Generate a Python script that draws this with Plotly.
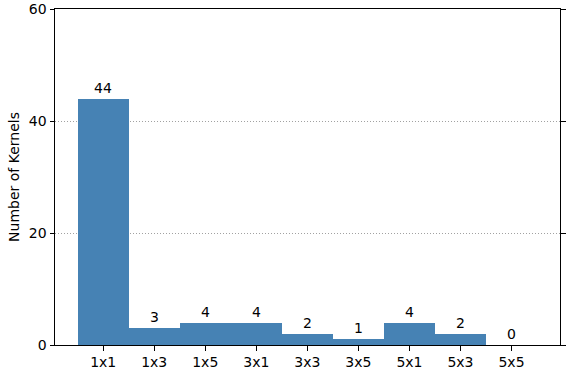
import plotly.graph_objects as go

categories = ["1x1", "1x3", "1x5", "3x1", "3x3", "3x5", "5x1", "5x3", "5x5"]
counts = [44, 3, 4, 4, 2, 1, 4, 2, 0]
y_ticks = [0, 20, 40, 60]

font = dict(family="DejaVu Sans", size=14, color="black")
x_idx = list(range(len(categories)))

fig = go.Figure()
fig.add_trace(go.Bar(x=x_idx, y=counts, width=1.0, marker=dict(color="#4682B4", line=dict(width=0)),
                     showlegend=False, hoverinfo="skip"))
# invisible trace to activate right axis
fig.add_trace(go.Scatter(x=[x_idx[0]], y=[0], yaxis="y2", mode="markers",
                         marker=dict(opacity=0), showlegend=False, hoverinfo="skip"))

for xi, v in zip(x_idx, counts):
    fig.add_annotation(x=xi, y=v, text=str(v), showarrow=False, yanchor="bottom",
                       yshift=1, font=font)

fig.update_layout(
    width=569, height=383,
    margin=dict(l=55, r=8.5, t=8.5, b=38, autoexpand=False),
    paper_bgcolor="white", plot_bgcolor="white",
    font=font,
    bargap=0,
    xaxis=dict(range=[-0.944, 8.95], tickmode="array", tickvals=x_idx, ticktext=categories,
               showgrid=False, zeroline=False, showline=True, linecolor="black", linewidth=1,
               mirror=True, ticks="outside", ticklen=4.5, tickcolor="black", tickfont=font,
               automargin=False),
    yaxis=dict(range=[0, 60], tickmode="array", tickvals=y_ticks, showgrid=True,
               gridcolor="#8a8a8a", griddash="1px,2px", gridwidth=0.8, zeroline=False,
               showline=True, linecolor="black", linewidth=1, ticks="outside", ticklen=4.5,
               tickcolor="black", tickfont=font, automargin=False,
               title=dict(text="Number of Kernels", font=font, standoff=5)),
    yaxis2=dict(range=[0, 60], overlaying="y", side="right", tickmode="array", tickvals=y_ticks,
                showticklabels=False, showgrid=False, zeroline=False, showline=True,
                linecolor="black", linewidth=1, ticks="outside", ticklen=4.5, tickcolor="black",
                automargin=False),
)

fig.write_html("out.html", config={"displayModeBar": False, "staticPlot": True},
               post_script="document.body.style.margin='0';document.body.style.overflow='hidden';")
